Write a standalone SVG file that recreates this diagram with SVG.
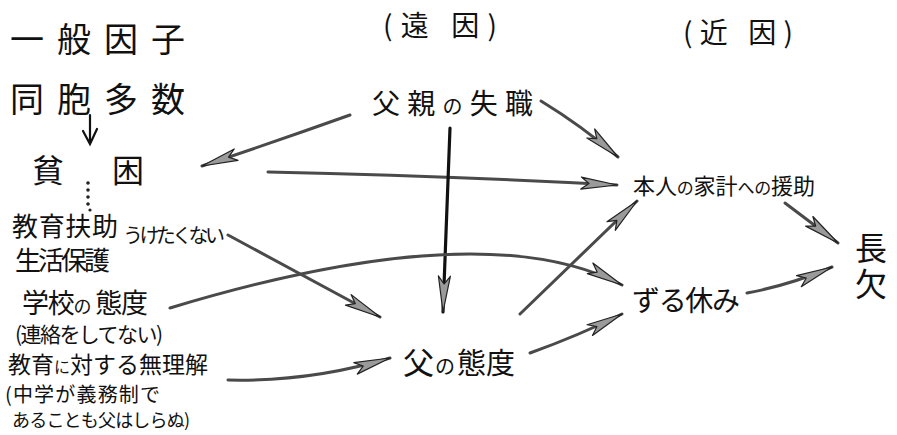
<svg xmlns="http://www.w3.org/2000/svg" width="897" height="435" viewBox="0 0 897 435">
<style>
text{font-family:"Noto Sans CJK JP","Noto Sans CJK SC",sans-serif;fill:#111}
.c{fill:none;stroke:#4a4a4a;stroke-width:3;stroke-linecap:round;marker-end:url(#ah)}
.k{stroke:#111;stroke-width:3.2}
</style>
<defs>
<marker id="ah" markerUnits="userSpaceOnUse" markerWidth="40" markerHeight="16" viewBox="0 0 40 16" refX="38" refY="8" orient="auto">
<path d="M2 2 L38 8 L2 14 L10 8 Z" fill="#9a9a9a" stroke="#222" stroke-width="1.2" stroke-linejoin="round"/>
</marker>
</defs>
<rect width="897" height="435" fill="#fff"/>
<g id="connectors">
<path class="c" d="M350,115 Q280,140 202,166"/>
<path class="c" d="M541,101 Q582,126 618,157"/>
<path class="c" d="M268,172 Q450,176 617,185"/>
<path class="c k" d="M450,128 L443,312"/>
<path class="c" d="M170,308 Q484,213 622,285"/>
<path class="c" d="M228,235 L380,317"/>
<path class="c" d="M228,380 Q310,382 390,358"/>
<path class="c" d="M520,314 L637,201"/>
<path class="c" d="M530,353 Q580,335 622,314"/>
<path class="c" d="M785,203 L838,243"/>
<path class="c" d="M747,293 Q790,285 832,267"/>
<path d="M90,115 L90,143 M83,131 L90,144 L97,129" fill="none" stroke="#111" stroke-width="2.2" stroke-linecap="round"/>
<g fill="#222"><circle cx="88" cy="183" r="1.8"/><circle cx="88" cy="190" r="1.8"/><circle cx="88" cy="197" r="1.8"/><circle cx="88" cy="204" r="1.8"/><circle cx="90" cy="210" r="1.6"/></g>
</g>
<g id="general"><text x="10" y="52" font-size="34" textLength="175" lengthAdjust="spacing">一般因子</text></g>
<g id="siblings"><text x="10" y="112" font-size="34" textLength="175" lengthAdjust="spacing">同胞多数</text></g>
<g id="poverty"><text x="32 112" y="182" font-size="32">貧困</text></g>
<g id="aid">
<text font-size="26"><tspan x="12" y="236" textLength="106" lengthAdjust="spacing">教育扶助</tspan><tspan x="123" y="243" font-size="20" textLength="102" lengthAdjust="spacing">うけたくない</tspan><tspan x="15" y="270" textLength="95" lengthAdjust="spacing">生活保護</tspan></text>
</g>
<g id="school">
<text font-size="27"><tspan x="22" y="313" textLength="126" lengthAdjust="spacing">学校<tspan font-size="18">の</tspan> 態度</tspan><tspan x="15" y="342" font-size="21" textLength="148" lengthAdjust="spacing">(連絡をしてない)</tspan></text>
</g>
<g id="ignorance">
<text font-size="23"><tspan x="8" y="373" textLength="200" lengthAdjust="spacing">教育<tspan font-size="16">に</tspan>対する無理解</tspan><tspan x="5" y="402" font-size="20" textLength="155" lengthAdjust="spacing">(中学が義務制で</tspan><tspan x="12" y="427" font-size="18" textLength="178" lengthAdjust="spacing">あることも父はしらぬ)</tspan></text>
</g>
<g id="far"><text x="383" y="36" font-size="28" textLength="114" lengthAdjust="spacing">(遠 因)</text></g>
<g id="near"><text x="683" y="43" font-size="28" textLength="110" lengthAdjust="spacing">(近 因)</text></g>
<g id="jobloss"><text x="372" y="114" font-size="28" textLength="161" lengthAdjust="spacing">父親<tspan font-size="20">の</tspan>失職</text></g>
<g id="support"><text x="633" y="194" font-size="22" textLength="182" lengthAdjust="spacing">本人<tspan font-size="17">の</tspan>家計<tspan font-size="17">への</tspan>援助</text></g>
<g id="truancy"><text x="632" y="311" font-size="28" textLength="108" lengthAdjust="spacing">ずる休み</text></g>
<g id="absence"><text x="871" y="232" font-size="32" writing-mode="vertical-rl" letter-spacing="4">長欠</text></g>
<g id="fatherattitude"><text y="374" font-size="31"><tspan x="403">父</tspan><tspan x="435" font-size="20">の</tspan><tspan x="457" font-size="29">態度</tspan></text></g>
</svg>
